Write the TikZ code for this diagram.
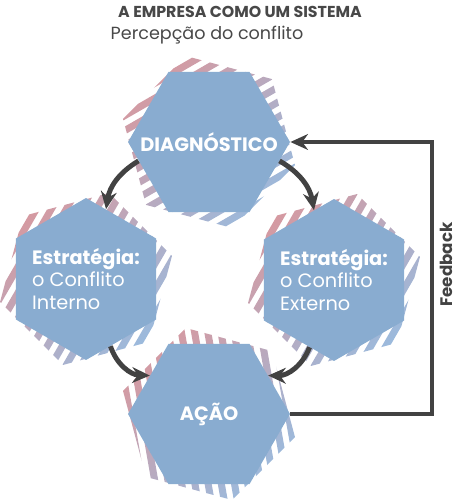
\documentclass[tikz,border=0pt]{standalone}
\usepackage{fontspec}
\setmainfont{Poppins}
\usetikzlibrary{shapes.geometric, arrows.meta, backgrounds, calc}
\definecolor{hexblue}{RGB}{137,172,208}
\definecolor{stripered}{RGB}{216,152,158}
\definecolor{stripepurple}{RGB}{176,170,200}
\definecolor{stripeblue}{RGB}{152,188,224}
\definecolor{arrowgray}{RGB}{66,66,66}
\definecolor{titlegray}{RGB}{72,72,72}

\begin{document}
\begin{tikzpicture}[
    x=0.02cm, y=0.02cm,
    hexflat/.style={regular polygon, regular polygon sides=6, fill=hexblue, minimum size=3.24cm, inner sep=0pt},
    hexpointy/.style={hexflat, shape border rotate=30},
    hextext/.style={text=white, align=center, inner sep=0pt, font=\fontsize{11}{13}\selectfont},
    cyclearrow/.style={arrowgray, line width=2.8pt, -{Stealth[length=10pt, width=9pt]}},
    feedarrow/.style={arrowgray, line width=2.4pt, -{Stealth[length=10pt, width=9pt]}},
    titletext/.style={text=titlegray, font=\fontsize{9}{11}\selectfont\bfseries},
    subtext/.style={text=titlegray, font=\fontsize{10}{12}\selectfont}
  ]
  \useasboundingbox (0,0) rectangle (462,499);

  % Titulo
  \node[titletext] (title) at (240,487) {A EMPRESA COMO UM SISTEMA};
  \node[subtext] (subtitle) at (207,464) {Percepção do conflito};

  % Hexagonos
  \node[hexflat] (diag) at (209,357) {};
  \node[hexpointy] (strat1) at (86,220) {};
  \node[hexpointy] (strat2) at (334,219) {};
  \node[hexflat] (acao) at (209,85) {};
  \node[hextext] (diaglabel) at (diag.center) {\bfseries DIAGNÓSTICO};
  \node[hextext, align=left] (strat1label) at (strat1.center) {\textbf{Estratégia:}\\o Conflito\\Interno};
  \node[hextext, align=left] (strat2label) at (strat2.center) {\textbf{Estratégia:}\\o Conflito\\Externo};
  \node[hextext] (acaolabel) at (acao.center) {\bfseries AÇÃO};

  % Fundo tracejado
  \begin{scope}[on background layer]
    \foreach \c/\s/\a in {diag/0/30, strat1/30/60, strat2/30/60, acao/0/100} {
      \begin{scope}
        \clip[shift={(\c.center)}, rotate=-15] (\s:89) -- (\s+60:89) -- (\s+120:89) -- (\s+180:89) -- (\s+240:89) -- (\s+300:89) -- cycle;
        \clip[shift={(\c.center)}, rotate=\a] \foreach \k in {-8,...,8} {({-110},{\k*13-3.5}) rectangle ({110},{\k*13+3.5})};
        \shade[top color=stripered, middle color=stripepurple, bottom color=stripeblue, shading angle=45] ($(\c.center)+(-95,-95)$) rectangle ($(\c.center)+(95,95)$);
      \end{scope}
    }
  \end{scope}

  % Ciclo
  \draw[cyclearrow] (diag.195) to[bend right=25] (strat1.74);
  \draw[cyclearrow] (diag.345) to[bend left=25] (strat2.106);
  \draw[cyclearrow] (strat1.290) to[bend right=35] (acao.147);
  \draw[cyclearrow] (strat2.250) to[bend left=35] (acao.33);

  % Feedback
  \coordinate (fbx) at (432,0);
  \draw[feedarrow] (acao.east) -- (acao.east -| fbx) -- node[pos=0.55, below, sloped, text=arrowgray, font=\fontsize{9.5}{11}\selectfont\bfseries] {Feedback} (diag.east -| fbx) -- (diag.east);

\end{tikzpicture}
\end{document}
